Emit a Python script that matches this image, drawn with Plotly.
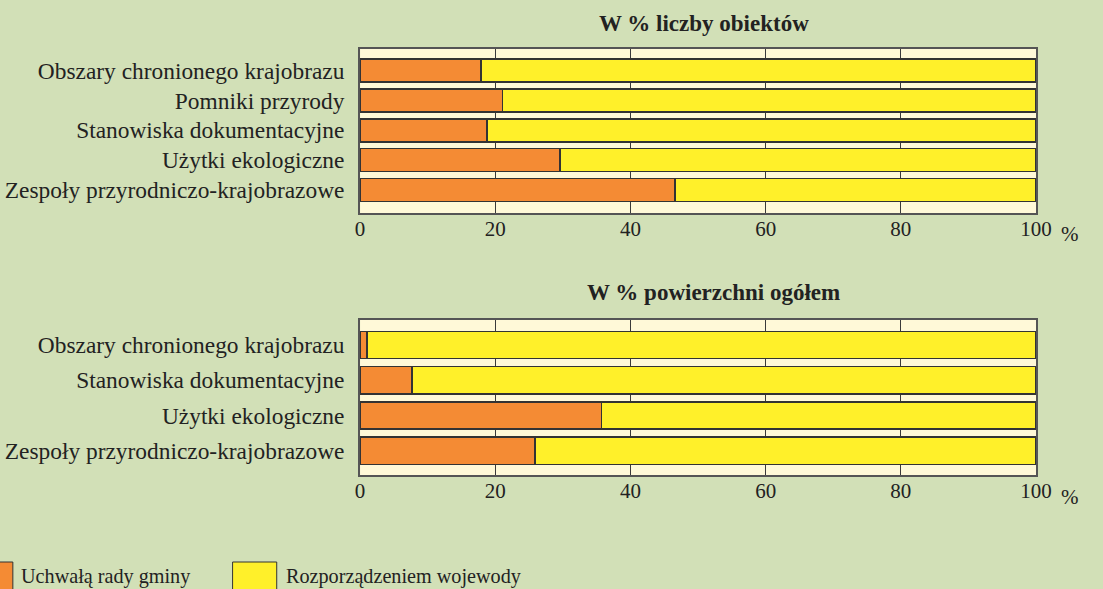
import plotly.graph_objects as go

# data
cats_top = ["Obszary chronionego krajobrazu", "Pomniki przyrody", "Stanowiska dokumentacyjne",
            "Użytki ekologiczne", "Zespoły przyrodniczo-krajobrazowe"]
gmina_top = [17.9, 21.1, 18.8, 29.6, 46.6]

cats_bot = ["Obszary chronionego krajobrazu", "Stanowiska dokumentacyjne",
            "Użytki ekologiczne", "Zespoły przyrodniczo-krajobrazowe"]
gmina_bot = [1.0, 7.7, 35.7, 25.9]

woj_top = [100 - v for v in gmina_top]
woj_bot = [100 - v for v in gmina_bot]

tick_vals = [0, 20, 40, 60, 80, 100]
tick_text = ["0", "20", "40", "60", "80", "100"]

ORANGE = "#F48B34"
YELLOW = "#FFF02A"
CREAM = "#FFF9D8"
BG = "#D2E0B7"
DARK = "#333333"
TXT = "#222222"
FONT = "Liberation Serif"

fig = go.Figure()
for cats, g, w, xa, ya in [(cats_top, gmina_top, woj_top, "x", "y"),
                           (cats_bot, gmina_bot, woj_bot, "x2", "y2")]:
    fig.add_trace(go.Bar(y=cats, x=g, orientation="h", name="Uchwałą rady gminy",
                         marker=dict(color=ORANGE, line=dict(color=DARK, width=1.5)),
                         width=0.77, xaxis=xa, yaxis=ya, showlegend=False))
    fig.add_trace(go.Bar(y=cats, x=w, orientation="h", name="Rozporządzeniem wojewody",
                         marker=dict(color=YELLOW, line=dict(color=DARK, width=1.5)),
                         width=0.77, xaxis=xa, yaxis=ya, showlegend=False))

xcommon = dict(range=[0, 100], tickvals=tick_vals, ticktext=tick_text,
               showgrid=True, gridcolor="#3a3a3a", gridwidth=1, zeroline=False,
               showline=True, linecolor="#555555", linewidth=2, mirror=True,
               ticks="", ticklen=0, tickfont=dict(family=FONT, size=21, color=TXT),
               ticklabelstandoff=-4, fixedrange=True)
ycommon = dict(type="category", showgrid=False, showline=True, linecolor="#555555",
               linewidth=2, mirror=True, ticks="", ticklabelstandoff=9,
               tickfont=dict(family=FONT, size=23.4, color=TXT), fixedrange=True)

fig.update_layout(
    width=1103, height=589,
    margin=dict(l=0, r=0, t=0, b=0),
    paper_bgcolor=BG, plot_bgcolor=CREAM,
    barmode="stack",
    xaxis=dict(domain=[362 / 1103, 1051 / 1103], anchor="y", **xcommon),
    yaxis=dict(domain=[1 - 213 / 589, 1 - 49 / 589], anchor="x",
               range=[4.77, -0.72], **ycommon),
    xaxis2=dict(domain=[362 / 1103, 1051 / 1103], anchor="y2", **xcommon),
    yaxis2=dict(domain=[1 - 475 / 589, 1 - 320 / 589], anchor="x2",
                range=[3.69, -0.71], **ycommon),
)

ann = [
    dict(text="<b>W % liczby obiektów</b>", x=713 / 1103, y=1 - 23 / 589),
    dict(text="<b>W % powierzchni ogółem</b>", x=722 / 1103, y=1 - 293 / 589),
]
for a in ann:
    fig.add_annotation(xref="paper", yref="paper", showarrow=False,
                       xanchor="center", yanchor="middle",
                       font=dict(family=FONT, size=23, color=TXT), **a)

# "%" after the 100 tick
for yy in [234, 497]:
    fig.add_annotation(xref="paper", yref="paper", x=1074 / 1103, y=1 - yy / 589,
                       text="%", showarrow=False, xanchor="left", yanchor="middle",
                       font=dict(family=FONT, size=21, color=TXT))

# legend drawn manually
fig.add_shape(type="rect", xref="paper", yref="paper",
              x0=-40 / 1103, x1=8 / 1103, y0=-0.02, y1=1 - 562 / 589,
              fillcolor=ORANGE, line=dict(color=DARK, width=1))
fig.add_shape(type="rect", xref="paper", yref="paper",
              x0=232 / 1103, x1=277 / 1103, y0=-0.02, y1=1 - 562 / 589,
              fillcolor=YELLOW, line=dict(color=DARK, width=1))
fig.add_annotation(xref="paper", yref="paper", x=14 / 1103, y=1 - 576 / 589,
                   text="Uchwałą rady gminy", showarrow=False, xanchor="left", yanchor="middle",
                   font=dict(family=FONT, size=20.2, color=TXT))
fig.add_annotation(xref="paper", yref="paper", x=284 / 1103, y=1 - 576 / 589,
                   text="Rozporządzeniem wojewody", showarrow=False, xanchor="left", yanchor="middle",
                   font=dict(family=FONT, size=20.2, color=TXT))

fig.write_html("out.html", config={"displayModeBar": False},
               post_script="document.documentElement.style.overflow='hidden';"
                           "document.body.style.margin='0';document.body.style.overflow='hidden';")
